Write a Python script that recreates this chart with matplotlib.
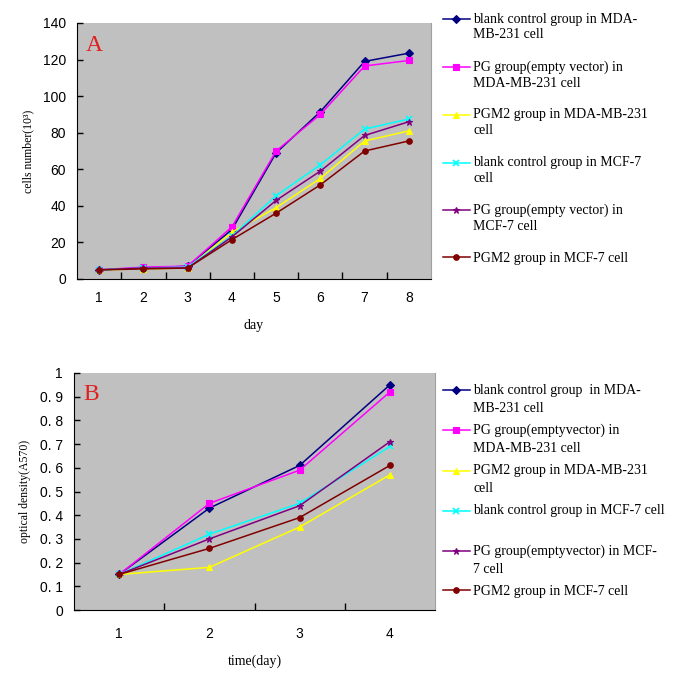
import matplotlib
matplotlib.use("Agg")
import matplotlib.pyplot as plt
from matplotlib.legend_handler import HandlerLine2D

# ---- Data ----
days_A = [1, 2, 3, 4, 5, 6, 7, 8]
blank_mda_A = [5, 6, 7, 27, 69, 91.5, 119, 123.5]
pg_mda_A = [5, 6.5, 7, 28.5, 70, 90, 116.5, 119.5]
pgm2_mda_A = [5, 5.5, 6, 25.5, 39, 55, 75.5, 81]
blank_mcf_A = [5, 6, 6.5, 23.5, 45.5, 62.5, 82, 87.5]
pg_mcf_A = [5, 6, 6, 23, 43, 59, 78.5, 86]
pgm2_mcf_A = [5, 5.5, 6, 21.5, 36, 51.5, 70, 75.5]

days_B = [1, 2, 3, 4]
blank_mda_B = [0.15, 0.43, 0.61, 0.95]
pg_mda_B = [0.15, 0.45, 0.59, 0.92]
pgm2_mda_B = [0.15, 0.18, 0.35, 0.57]
blank_mcf_B = [0.15, 0.32, 0.45, 0.69]
pg_mcf_B = [0.15, 0.30, 0.44, 0.71]
pgm2_mcf_B = [0.15, 0.26, 0.39, 0.61]

labels_A = [
    "blank control group in MDA-\nMB-231 cell",
    "PG group(empty vector) in\nMDA-MB-231 cell",
    "PGM2 group in MDA-MB-231\ncell",
    "blank control group in MCF-7\ncell",
    "PG group(empty vector) in\nMCF-7 cell",
    "PGM2 group in MCF-7 cell",
]
labels_B = [
    "blank control group  in MDA-\nMB-231 cell",
    "PG group(emptyvector) in\nMDA-MB-231 cell",
    "PGM2 group in MDA-MB-231\ncell",
    "blank control group in MCF-7 cell\n ",
    "PG group(emptyvector) in MCF-\n7 cell",
    "PGM2 group in MCF-7 cell",
]

colors = ["#000080", "#FF00FF", "#FFFF00", "#00FFFF", "#800080", "#800000"]
markers = ["D", "s", "^", "x", "*", "o"]
msizes = [4, 5, 5, 5, 5, 4]

serif = ["Liberation Serif", "DejaVu Serif"]
plt.rcParams["font.family"] = serif

fig = plt.figure(figsize=(6.85, 6.77), dpi=100)
W, H = 685, 677


class ShiftedLine(HandlerLine2D):
    """Legend handle raised to the first text line of a two-line label."""
    def __init__(self, dy, **kw):
        super().__init__(**kw)
        self.dy = dy

    def create_artists(self, legend, orig_handle, xdescent, ydescent,
                       width, height, fontsize, trans):
        return super().create_artists(legend, orig_handle, xdescent,
                                      ydescent - 2 * self.dy, width, height,
                                      fontsize, trans)


def make_ax(l, t, r, b):
    return fig.add_axes([l / W, 1 - b / H, (r - l) / W, (b - t) / H])


def style(ax, ncat, ylim, yticks, yticklabels, ylabel, xlabel, letter, xpad, xlpad):
    ax.set_facecolor("#C0C0C0")
    ax.set_xlim(0.5, ncat + 0.5)
    ax.set_ylim(*ylim)
    ax.set_xticks([i + 0.5 for i in range(1, ncat)], minor=False)
    ax.set_xticklabels([])
    ax.set_xticks(list(range(1, ncat + 1)), minor=True)
    ax.set_xticklabels([str(i) for i in range(1, ncat + 1)], minor=True,
                       fontsize=10, family=["Liberation Sans", "DejaVu Sans"])
    ax.tick_params(axis="x", which="major", direction="in", length=5, width=1, color="black")
    ax.tick_params(axis="x", which="minor", length=0, pad=xpad)
    ax.set_yticks(yticks)
    ax.set_yticklabels(yticklabels, fontsize=10, family=["Liberation Sans", "DejaVu Sans"])
    ax.tick_params(axis="y", direction="in", length=4, width=1, pad=8)
    ax.spines["left"].set_color("black")
    ax.spines["bottom"].set_color("black")
    ax.spines["top"].set_visible(False)
    ax.spines["right"].set_color("#A0A0A0")
    ax.set_ylabel(ylabel, fontsize=8.5, labelpad=6)
    ax.set_xlabel(xlabel, fontsize=10, labelpad=xlpad)
    ax.text(0.025, 0.955, letter, transform=ax.transAxes, color="#E02020",
            fontsize=17, ha="left", va="top")


def add_legend(ax, labels, x, y, linesp, labsp, dy):
    handles, labs = ax.get_legend_handles_labels()
    hmap = {}
    for h, lab in zip(handles, labs):
        hmap[h] = ShiftedLine(dy if "\n" in lab else 0.0)
    leg = fig.legend(handles, labs, loc="upper left", bbox_to_anchor=(x / W, 1 - y / H),
                     frameon=False, fontsize=10, handlelength=2.0, handletextpad=0.2,
                     labelspacing=labsp, borderaxespad=0, handler_map=hmap)
    for t in leg.get_texts():
        t.set_linespacing(linesp)
    return leg


# ---- Panel A ----
axA = make_ax(77, 23, 431, 279)
seriesA = [blank_mda_A, pg_mda_A, pgm2_mda_A, blank_mcf_A, pg_mcf_A, pgm2_mcf_A]
for vals, c, m, ms, lab in zip(seriesA, colors, markers, msizes, labels_A):
    axA.plot(days_A, vals, color=c, marker=m, markersize=ms, linewidth=1.1,
             markeredgewidth=1.2 if m == "x" else 0.8, label=lab)
style(axA, 8, (0, 140), list(range(0, 141, 20)), [str(v) for v in range(0, 141, 20)],
      "cells number(10³)", "day", "A", 9, 10)
add_legend(axA, labels_A, 437, 7, 1.29, 1.35, 5.8)

# ---- Panel B ----
axB = make_ax(74, 373, 435, 610)
seriesB = [blank_mda_B, pg_mda_B, pgm2_mda_B, blank_mcf_B, pg_mcf_B, pgm2_mcf_B]
for vals, c, m, ms, lab in zip(seriesB, colors, markers, msizes, labels_B):
    axB.plot(days_B, vals, color=c, marker=m, markersize=ms, linewidth=1.1,
             markeredgewidth=1.2 if m == "x" else 0.8, label=lab)
byt = [round(0.1 * i, 1) for i in range(11)]
bytl = ["0"] + ["0. %d" % i for i in range(1, 10)] + ["1"]
style(axB, 4, (0, 1), byt, bytl, "optical density(A570)", "time(day)", "B", 12, 10)
add_legend(axB, labels_B, 437, 378, 1.5, 0.65, 6.6)

fig.savefig("out.png", dpi=100)
